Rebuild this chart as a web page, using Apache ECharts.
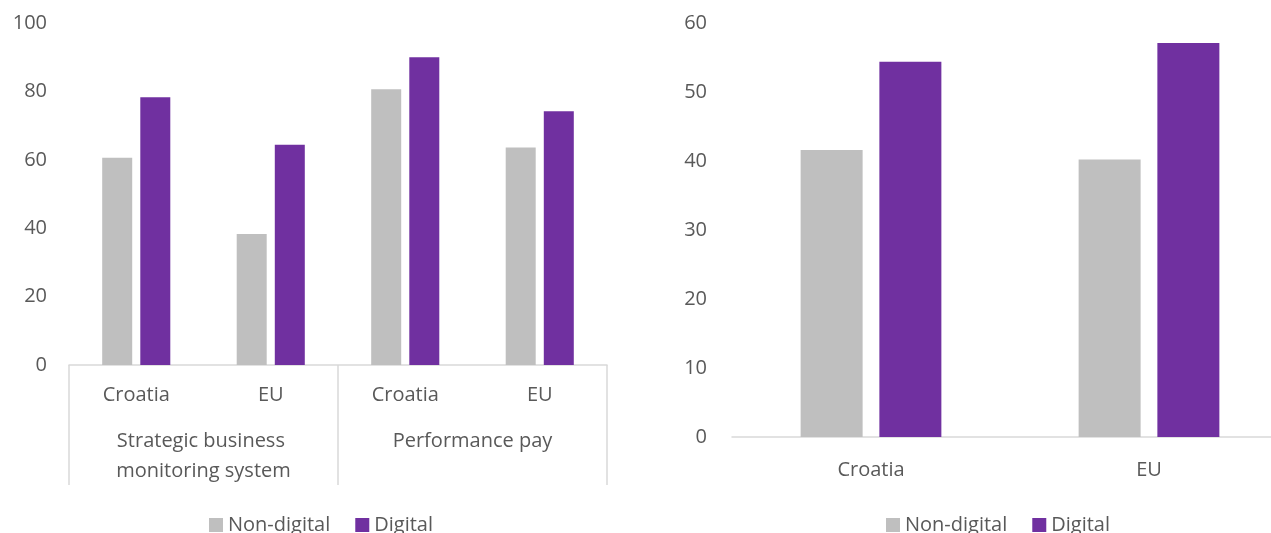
<!DOCTYPE html>
<html>
<head>
<meta charset="utf-8">
<script src="https://cdn.jsdelivr.net/npm/echarts@6/dist/echarts.min.js"></script>
<style>
  html, body { margin: 0; padding: 0; background: #fff; overflow: hidden; }
  #chart { width: 1290px; height: 533px; }
</style>
</head>
<body>
<div id="chart"></div>
<script>
var seriesNames = ['Non-digital', 'Digital'];

// left panel
var leftCategories = ['Croatia', 'EU', 'Croatia', 'EU'];
var leftGroups = ['Strategic business monitoring system', 'Performance pay'];
var leftNonDigital = [60.6, 38.3, 80.6, 63.6];
var leftDigital = [78.3, 64.4, 90.0, 74.2];

// right panel
var rightCategories = ['Croatia', 'EU'];
var rightNonDigital = [41.6, 40.2];
var rightDigital = [54.4, 57.1];

var grey = '#bfbfbf';
var purple = '#7030a0';
var textColor = '#595959';
var lineColor = '#d9d9d9';
var font = '"Open Sans", sans-serif';

// the plot area of the right panel runs past the page edge, so the canvas is a bit wider than the window
var chart = echarts.init(document.getElementById('chart'));

chart.setOption({
  color: [grey, purple],
  textStyle: { fontFamily: font, color: textColor },
  animation: false,
  grid: [
    { left: 69, width: 538, top: 23, bottom: 168 },
    { left: 732, width: 556, top: 23, bottom: 96 }
  ],
  legend: [
    {
      data: seriesNames,
      left: 204, top: 510,
      icon: 'rect', itemWidth: 14, itemHeight: 14, itemGap: 25,
      textStyle: { fontSize: 20, color: textColor, fontFamily: font, lineHeight: 20 }
    },
    {
      data: seriesNames,
      left: 881, top: 510,
      icon: 'rect', itemWidth: 14, itemHeight: 14, itemGap: 25,
      textStyle: { fontSize: 20, color: textColor, fontFamily: font, lineHeight: 20 }
    }
  ],
  xAxis: [
    {
      type: 'category', gridIndex: 0, data: leftCategories,
      axisLine: { show: true, lineStyle: { color: lineColor, width: 1.5 } },
      axisTick: { show: false },
      axisLabel: { fontSize: 20, color: textColor, margin: 18, lineHeight: 24, interval: 0 }
    },
    {
      type: 'category', gridIndex: 0, data: leftGroups, position: 'bottom',
      axisLine: { show: false },
      axisTick: { show: true, length: 120, interval: 0, lineStyle: { color: lineColor, width: 1.5 } },
      axisLabel: {
        fontSize: 20, color: textColor, margin: 61, lineHeight: 30, interval: 0,
        width: 240, overflow: 'break', align: 'center'
      }
    },
    {
      type: 'category', gridIndex: 1, data: rightCategories,
      axisLine: { show: true, lineStyle: { color: lineColor, width: 1.5 } },
      axisTick: { show: false },
      axisLabel: { fontSize: 20, color: textColor, margin: 21, lineHeight: 24 }
    }
  ],
  yAxis: [
    {
      type: 'value', gridIndex: 0, min: 0, max: 100, interval: 20,
      axisLine: { show: false }, axisTick: { show: false }, splitLine: { show: false },
      axisLabel: { fontSize: 20, color: textColor, margin: 22 }
    },
    {
      type: 'value', gridIndex: 1, min: 0, max: 60, interval: 10,
      axisLine: { show: false }, axisTick: { show: false }, splitLine: { show: false },
      axisLabel: { fontSize: 20, color: textColor, margin: 25 }
    }
  ],
  series: [
    { name: 'Non-digital', type: 'bar', xAxisIndex: 0, yAxisIndex: 0, data: leftNonDigital,
      barWidth: 30, barGap: '27%', itemStyle: { color: grey } },
    { name: 'Digital', type: 'bar', xAxisIndex: 0, yAxisIndex: 0, data: leftDigital,
      barWidth: 30, barGap: '27%', itemStyle: { color: purple } },
    { name: 'Non-digital', type: 'bar', xAxisIndex: 2, yAxisIndex: 1, data: rightNonDigital,
      barWidth: 62, barGap: '27%', itemStyle: { color: grey } },
    { name: 'Digital', type: 'bar', xAxisIndex: 2, yAxisIndex: 1, data: rightDigital,
      barWidth: 62, barGap: '27%', itemStyle: { color: purple } }
  ]
});
</script>
</body>
</html>
